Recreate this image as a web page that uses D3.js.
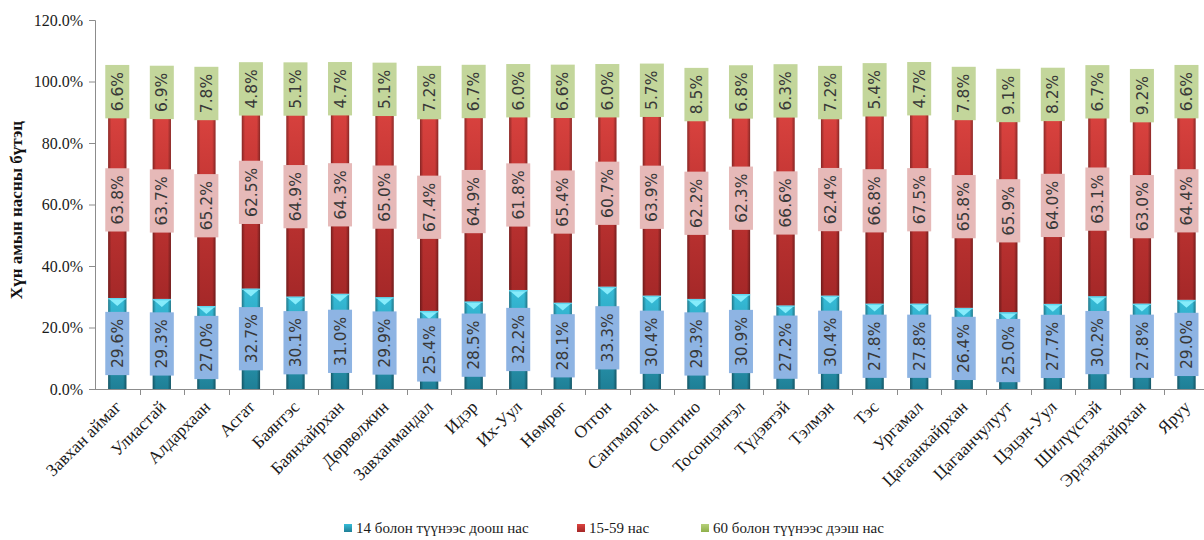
<!DOCTYPE html>
<html><head><meta charset="utf-8">
<script src="https://cdn.jsdelivr.net/npm/d3@7"></script>
<style>body{margin:0;background:#fff;} svg{display:block;} .serif{font-family:"Liberation Serif","Times New Roman",Times,"DejaVu Serif",serif;}</style>
</head><body>
<svg id="c" width="1204" height="540"></svg>
<script>
const categories = ["Завхан аймаг","Улиастай","Алдархаан","Асгат","Баянтэс","Баянхайрхан","Дөрвөлжин","Завханмандал","Идэр","Их-Уул","Нөмрөг","Отгон","Сантмаргац","Сонгино","Тосонцэнгэл","Түдэвтэй","Тэлмэн","Тэс","Ургамал","Цагаанхайрхан","Цагаанчулуут","Цэцэн-Уул","Шилүүстэй","Эрдэнэхайрхан","Яруу"];
const age0_14 = [29.6,29.3,27.0,32.7,30.1,31.0,29.9,25.4,28.5,32.2,28.1,33.3,30.4,29.3,30.9,27.2,30.4,27.8,27.8,26.4,25.0,27.7,30.2,27.8,29.0];
const age15_59 = [63.8,63.7,65.2,62.5,64.9,64.3,65.0,67.4,64.9,61.8,65.4,60.7,63.9,62.2,62.3,66.6,62.4,66.8,67.5,65.8,65.9,64.0,63.1,63.0,64.4];
const age60 = [6.6,6.9,7.8,4.8,5.1,4.7,5.1,7.2,6.7,6.0,6.6,6.0,5.7,8.5,6.8,6.3,7.2,5.4,4.7,7.8,9.1,8.2,6.7,9.2,6.6];
const seriesNames = ["14 болон түүнээс доош нас","15-59 нас","60 болон түүнээс дээш нас"];
const yTicks = [0,0.2,0.4,0.6,0.8,1.0,1.2];
const yTitle = "Хүн амын насны бүтэц";

const svg = d3.select("#c");
const defs = svg.append("defs");
function vgrad(id, stops){
  const g = defs.append("linearGradient").attr("id",id).attr("x1",0).attr("y1",0).attr("x2",0).attr("y2",1);
  stops.forEach(s=>g.append("stop").attr("offset",s[0]).attr("stop-color",s[1]));
}
function hgrad(id, stops){
  const g = defs.append("linearGradient").attr("id",id).attr("x1",0).attr("y1",0).attr("x2",1).attr("y2",0);
  stops.forEach(s=>g.append("stop").attr("offset",s[0]).attr("stop-color",s[1][0]).attr("stop-opacity",s[1][1]));
}
vgrad("gCyan",[[0,"#36bcd8"],[1,"#1f7f96"]]);
vgrad("gRed",[[0,"#dc4440"],[0.45,"#c23533"],[1,"#a52828"]]);
vgrad("gGreen",[[0,"#b6d07a"],[1,"#8fb04a"]]);
hgrad("gEdge",[[0,["#000",0.35]],[0.18,["#000",0.0]],[0.82,["#000",0.0]],[1,["#000",0.35]]]);

const x = d3.scaleBand().domain(categories).range([95, 95 + 44.55*categories.length]).padding(0);
const y = d3.scaleLinear().domain([0,1.2]).range([389,20]);
const barW = x.bandwidth()*0.41;

// axes
const yAxis = d3.axisLeft(y).tickValues(yTicks).tickFormat(d3.format(".1%")).tickSize(6).tickPadding(6);
const gy = svg.append("g").attr("transform","translate(95,0)").call(yAxis).attr("font-family",null);
gy.select(".domain").attr("stroke","#8c8c8c");
gy.selectAll(".tick line").attr("stroke","#8c8c8c");
gy.selectAll(".tick text").attr("class","serif").attr("font-size",16).attr("fill","#1a1a1a");

// x axis
const xr = x.range();
svg.append("line").attr("x1",95).attr("x2",xr[1]).attr("y1",y(0)+0.5).attr("y2",y(0)+0.5).attr("stroke","#8c8c8c");
svg.append("g").selectAll("line").data(categories.slice(1)).join("line")
  .attr("x1",d=>Math.round(x(d))+0.5).attr("x2",d=>Math.round(x(d))+0.5)
  .attr("y1",y(0)).attr("y2",y(0)+6).attr("stroke","#8c8c8c");

// stacked data
const rows = categories.map((c,i)=>({cat:c, a:age0_14[i]/100, b:age15_59[i]/100, c:age60[i]/100}));
const stack = d3.stack().keys(["a","b","c"])(rows);
const fills = ["url(#gCyan)","url(#gRed)","url(#gGreen)"];
const labelBg = ["#8eb4e3","#e6b9b8","#c3d69b"];

const gb = svg.append("g");
stack.forEach((layer,li)=>{
  const g = gb.append("g");
  g.selectAll("rect.seg").data(layer).join("rect").attr("class","seg")
    .attr("x",d=>x(d.data.cat)+x.bandwidth()/2-barW/2)
    .attr("width",barW)
    .attr("y",d=>y(d[1]))
    .attr("height",d=>y(d[0])-y(d[1]))
    .attr("fill",fills[li]);
  g.selectAll("rect.edge").data(layer).join("rect").attr("class","edge")
    .attr("x",d=>x(d.data.cat)+x.bandwidth()/2-barW/2)
    .attr("width",barW)
    .attr("y",d=>y(d[1]))
    .attr("height",d=>y(d[0])-y(d[1]))
    .attr("fill","url(#gEdge)");
  if(li===0){
    g.selectAll("path.bev").data(layer).join("path").attr("class","bev")
      .attr("d",d=>{
        const cx = x(d.data.cat)+x.bandwidth()/2, t=y(d[1]);
        return `M${cx-barW/2+1},${t+1} L${cx+barW/2-1},${t+1} L${cx},${t+8} Z`;
      })
      .attr("fill","#86ecfb");
    g.selectAll("rect.bt").data(layer).join("rect").attr("class","bt")
      .attr("x",d=>x(d.data.cat)+x.bandwidth()/2-barW/2)
      .attr("width",barW).attr("y",d=>y(d[1])).attr("height",1.5).attr("fill","#5fd6ee");
  }
});

// labels
const gl = svg.append("g");
stack.forEach((layer,li)=>{
  layer.forEach(d=>{
    const val = d[1]-d[0];
    const cx = x(d.data.cat)+x.bandwidth()/2;
    const cy = y((d[0]+d[1])/2);
    const txt = d3.format(".1%")(val);
    const gg = gl.append("g").attr("transform",`translate(${cx},${cy}) rotate(-90)`);
    const t = gg.append("text").text(txt)
      .attr("text-anchor","middle").attr("dy","0.36em")
      .attr("font-family","DejaVu Sans, sans-serif").attr("font-size",15.5)
      .attr("fill","#383838");
    const w = t.node().getComputedTextLength();
    gg.insert("rect","text").attr("x",-w/2-7).attr("y",-12).attr("width",w+14).attr("height",24).attr("fill",labelBg[li]);
  });
});

// x labels
svg.append("g").selectAll("text").data(categories).join("text")
  .attr("class","serif")
  .attr("transform",d=>`translate(${x(d)+x.bandwidth()/2+5},${y(0)+19}) rotate(-45)`)
  .attr("text-anchor","end")
  .attr("font-size",17.5).attr("fill","#1a1a1a")
  .text(d=>d);

// y title
svg.append("text").attr("class","serif").attr("transform","translate(22,210) rotate(-90)")
  .attr("text-anchor","middle")
  .attr("font-weight","bold").attr("font-size",17).attr("fill","#111").text(yTitle);

// legend
const legendX = [344,577,701];
const lg = svg.append("g");
seriesNames.forEach((n,i)=>{
  lg.append("rect").attr("x",legendX[i]).attr("y",524).attr("width",8).attr("height",8).attr("fill",fills[i]);
  lg.append("text").attr("class","serif").attr("x",legendX[i]+12).attr("y",533)
    .attr("font-size",15).attr("fill","#1a1a1a").text(n);
});
</script>
</body></html>
